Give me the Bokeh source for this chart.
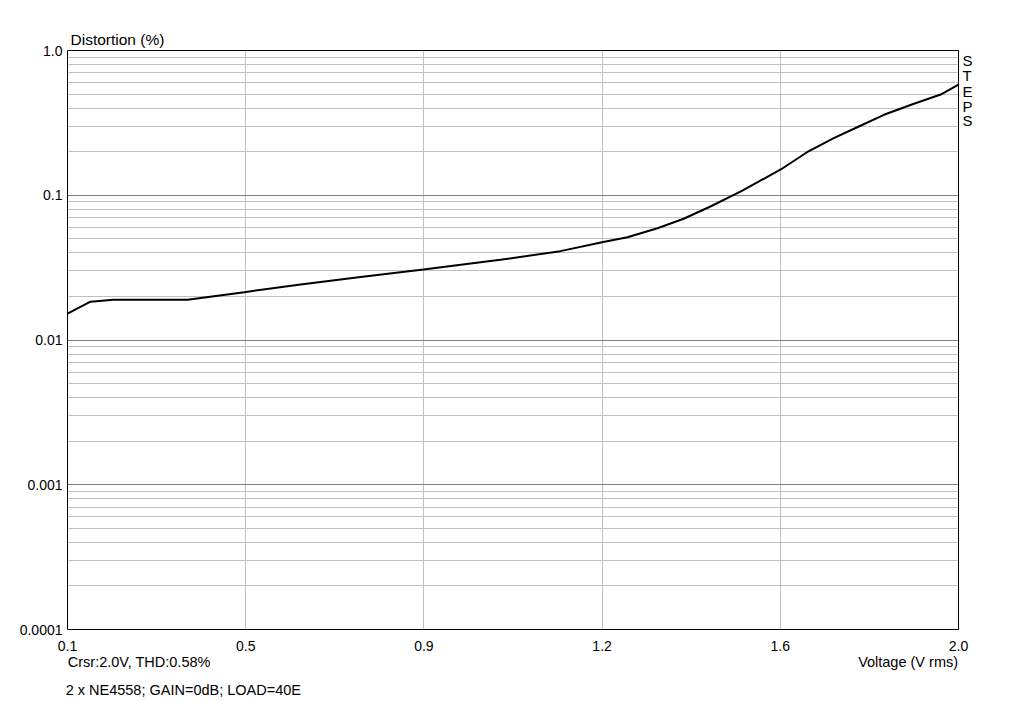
from bokeh.plotting import figure
from bokeh.models import FixedTicker, LinearAxis, LogAxis, Range1d, Title
from bokeh.embed import file_html
from bokeh.resources import INLINE

# ---- data ----
voltage = [0.100, 0.149, 0.198, 0.356, 0.477, 0.597, 0.725, 0.859, 1.023, 1.151,
           1.240, 1.294, 1.358, 1.414, 1.471, 1.537, 1.621, 1.677, 1.734, 1.784,
           1.841, 1.905, 1.962, 2.000]
thd = [0.0152, 0.0184, 0.0190, 0.0190, 0.0214, 0.0242, 0.0272, 0.0307, 0.0358, 0.0411,
       0.0474, 0.0513, 0.0592, 0.0688, 0.0836, 0.1067, 0.1507, 0.1983, 0.2478, 0.2951,
       0.3595, 0.4284, 0.4966, 0.5800]

x_ticks = [0.1, 0.48, 0.86, 1.24, 1.62, 2.0]
x_tick_labels = ["0.1", "0.5", "0.9", "1.2", "1.6", "2.0"]
y_ticks = [0.0001, 0.001, 0.01, 0.1, 1.0]
y_tick_labels = ["0.0001", "0.001", "0.01", "0.1", "1.0"]
y_minor = [m * d for d in [0.0001, 0.001, 0.01, 0.1] for m in range(2, 10)]

title_text = "Distortion (%)"
x_title = "Voltage (V rms)"
cursor_text = "Crsr:2.0V, THD:0.58%"
footer_text = "2 x NE4558; GAIN=0dB; LOAD=40E"
side_letters = ["S", "T", "E", "P", "S"]

FONT = "Liberation Sans"
FS_TICK = "14px"
FS_TEXT = "14.5px"
FS_TITLE = "15.5px"
FS_SIDE = "15px"

FRAME_W, FRAME_H = 891, 579
LEFT, TOP, RIGHT, BOTTOM = 67, 50, 58, 70
DECADE_PX = FRAME_H / 4.0

p = figure(width=LEFT + FRAME_W + RIGHT, height=TOP + FRAME_H + BOTTOM,
           frame_width=FRAME_W, frame_height=FRAME_H,
           y_axis_type="log", output_backend="svg", toolbar_location=None,
           x_range=Range1d(0.1, 2.0), y_range=Range1d(0.0001, 1.0),
           min_border_left=LEFT, min_border_top=TOP, min_border_right=RIGHT,
           min_border_bottom=BOTTOM, title=None)
p.background_fill_color = "white"
p.border_fill_color = "white"
p.outline_line_color = "black"
p.outline_line_width = 1


def style_axis(ax, standoff, size):
    ax.axis_line_color = None
    ax.major_tick_line_color = None
    ax.minor_tick_line_color = None
    ax.major_tick_out = 0
    ax.minor_tick_out = 0
    ax.major_tick_in = 0
    ax.minor_tick_in = 0
    ax.major_label_text_font = FONT
    ax.major_label_text_font_size = size
    ax.major_label_text_color = "black"
    ax.major_label_standoff = standoff


# main axes
p.xaxis.ticker = FixedTicker(ticks=x_ticks)
p.xaxis.major_label_overrides = {t: l for t, l in zip(x_ticks, x_tick_labels)}
p.yaxis.ticker = FixedTicker(ticks=y_ticks, minor_ticks=y_minor)
p.yaxis.major_label_overrides = {t: l for t, l in zip(y_ticks, y_tick_labels)}
style_axis(p.xaxis[0], 11, FS_TICK)
style_axis(p.yaxis[0], 5, FS_TICK)

# second line below: cursor readout (left) and x title (right)
line2_pos = [0.253, 1.8925]
ax2 = LinearAxis(ticker=FixedTicker(ticks=line2_pos),
                 major_label_overrides={line2_pos[0]: cursor_text, line2_pos[1]: x_title})
style_axis(ax2, 0, FS_TEXT)
p.add_layout(ax2, "below")

# third line below: footer
line3_pos = [0.347]
ax3 = LinearAxis(ticker=FixedTicker(ticks=line3_pos),
                 major_label_overrides={line3_pos[0]: footer_text})
style_axis(ax3, 9, FS_TEXT)
p.add_layout(ax3, "below")

# right side stacked letters "STEPS"
step_px = [9.5, 24.5, 40.5, 55.5, 69.5]
step_y = [10 ** (-o / DECADE_PX) for o in step_px]
axr = LogAxis(ticker=FixedTicker(ticks=step_y),
              major_label_overrides={y: c for y, c in zip(step_y, side_letters)})
style_axis(axr, 4, FS_SIDE)
p.add_layout(axr, "right")

# title
t = Title(text=title_text, align="left", offset=3, standoff=5,
          text_font=FONT, text_font_size=FS_TITLE, text_font_style="normal",
          text_color="black")
p.add_layout(t, "above")

# grids
p.xgrid.ticker = FixedTicker(ticks=x_ticks)
p.xgrid.grid_line_color = "#c0c0c0"
p.xgrid.grid_line_width = 1
p.ygrid.ticker = FixedTicker(ticks=y_ticks, minor_ticks=y_minor)
p.ygrid.grid_line_color = "#808080"
p.ygrid.minor_grid_line_color = "#c0c0c0"
p.ygrid.grid_line_width = 1
p.ygrid.minor_grid_line_width = 1

# curve
p.line(voltage, thd, line_color="black", line_width=2)

open("out.html", "w").write(file_html(p, INLINE))
